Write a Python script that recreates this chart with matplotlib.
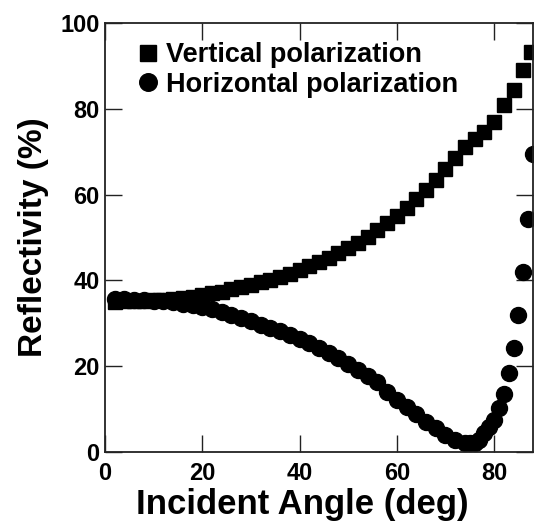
import matplotlib
matplotlib.use("Agg")
import matplotlib.pyplot as plt

# Data
vert_angle = [2, 4, 6, 8, 10, 12, 14, 16, 18, 20, 22, 24, 26, 28, 30, 32, 34, 36, 38, 40,
              42, 44, 46, 48, 50, 52, 54, 56, 58, 60, 62, 64, 66, 68, 70, 72, 74, 76, 78,
              80, 82, 84, 86, 87.6]
vert_refl = [35.0, 35.1, 35.2, 35.3, 35.4, 35.5, 35.7, 35.9, 36.2, 36.6, 37.0, 37.4, 37.9,
             38.4, 39.0, 39.6, 40.2, 40.9, 41.6, 42.4, 43.3, 44.2, 45.2, 46.3, 47.5, 48.8,
             50.2, 51.7, 53.3, 55.0, 56.9, 58.9, 61.1, 63.5, 66.0, 68.6, 71.0, 73.0, 74.5,
             77.0, 81.0, 84.3, 89.0, 93.3]

horiz_angle = [2, 4, 6, 8, 10, 12, 14, 16, 18, 20, 22, 24, 26, 28, 30, 32, 34, 36, 38, 40,
               42, 44, 46, 48, 50, 52, 54, 56, 58, 60, 62, 64, 66, 68, 70, 72, 74, 75, 76,
               77, 78, 79, 80, 81, 82, 83, 84, 85, 86, 87, 88]
horiz_refl = [35.6, 35.6, 35.5, 35.4, 35.3, 35.1, 34.9, 34.6, 34.2, 33.8, 33.3, 32.7, 32.0,
              31.3, 30.5, 29.7, 28.9, 28.1, 27.2, 26.4, 25.4, 24.3, 23.1, 21.9, 20.6, 19.2,
              17.8, 16.3, 13.9, 12.2, 10.5, 8.8, 7.1, 5.5, 4.0, 2.9, 2.2, 2.0, 2.1, 2.8,
              4.4, 5.8, 7.4, 10.2, 13.5, 18.4, 24.3, 31.9, 42.0, 54.2, 69.4]

series_labels = ["Vertical polarization", "Horizontal polarization"]
x_ticks = [0, 20, 40, 60, 80]
y_ticks = [0, 20, 40, 60, 80, 100]

plt.rcParams['font.family'] = ['Liberation Sans', 'DejaVu Sans']
plt.rcParams['font.weight'] = 'bold'

fig = plt.figure(figsize=(5.37, 5.24), dpi=100)
ax = fig.add_axes([0.1955, 0.1374, 0.797, 0.8187])

ax.plot(vert_angle, vert_refl, linestyle='none', marker='s', markersize=10.5,
        color='black', label=series_labels[0])
ax.plot(horiz_angle, horiz_refl, linestyle='none', marker='o', markersize=11.5,
        color='black', label=series_labels[1])

ax.set_xlim(0, 88)
ax.set_ylim(0, 100)
ax.set_xticks(x_ticks)
ax.set_yticks(y_ticks)
ax.tick_params(direction='in', length=12, width=1.0, top=True, right=True,
               labelsize=17, color='#222222')
ax.tick_params(axis='x', pad=7)
ax.tick_params(axis='y', pad=4)
for lab in ax.get_xticklabels() + ax.get_yticklabels():
    lab.set_fontweight('bold')
for s in ax.spines.values():
    s.set_linewidth(1.3)
    s.set_color('#222222')

ax.set_xlabel("Incident Angle (deg)", fontsize=25, fontweight='bold')
ax.xaxis.set_label_coords(0.46, -0.085, transform=ax.transAxes)
ax.xaxis.label.set_verticalalignment('top')
ax.set_ylabel("Reflectivity (%)", fontsize=24, fontweight='bold', labelpad=8)

leg = ax.legend(loc='upper left', bbox_to_anchor=(0.05, 0.98), frameon=False,
                prop={'size': 19.5, 'weight': 'bold'}, handletextpad=0.25,
                labelspacing=0.12, handlelength=0.8, borderaxespad=0,
                markerscale=1.1)

fig.savefig("out.png", dpi=100)
